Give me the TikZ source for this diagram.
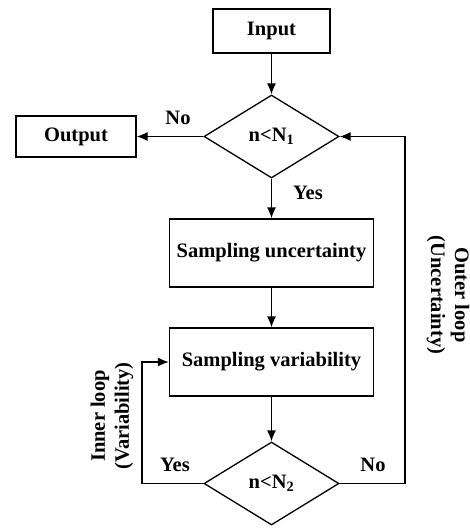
\documentclass[tikz,border=0pt]{standalone}
\usepackage{fontspec}
\setmainfont{Liberation Serif}
\usetikzlibrary{shapes.geometric,arrows.meta}
\begin{document}
\begin{tikzpicture}[x=1pt,y=-1pt,
  every node/.style={font=\fontsize{20.5}{24}\selectfont\bfseries},
  box/.style={draw,line width=1.3pt,inner sep=0pt,align=center},
  dec/.style={draw,diamond,line width=1.3pt,inner sep=0pt,minimum width=135pt,minimum height=83pt},
  conn/.style={line width=1.3pt,-{Latex[length=11pt,width=9pt]}},
  lbl/.style={inner sep=0pt}]
\useasboundingbox (0,0) rectangle (470,528);
\node[box,minimum width=117pt,minimum height=44pt] (in) at (271.5,31) {Input};
\node[dec] (d1) at (271.5,136.5) {n<N\textsubscript{1}};
\node[box,minimum width=120pt,minimum height=41pt] (out) at (76,136.5) {Output};
\node[box,minimum width=204pt,minimum height=68pt] (su) at (271.5,253) {Sampling uncertainty};
\node[box,minimum width=204pt,minimum height=68pt] (sv) at (271.5,362) {Sampling variability};
\node[dec] (d2) at (271.5,483.5) {n<N\textsubscript{2}};
\coordinate (il) at (142,483.5);
\coordinate (ol) at (405,483.5);
\draw[conn] (in) -- (d1);
\draw[conn] (d1.west) -- (out.east);
\draw[conn] (d1.south) -- (su.north);
\draw[conn] (su.south) -- (sv.north);
\draw[conn] (sv.south) -- (d2.north);
\draw[conn] (d2.west) -- (il) |- (sv.west);
\draw[conn] (d2.east) -- (ol) |- (d1.east);
\node[lbl] (no1) at (178,118) {No};
\node[lbl] (yes1) at (308,193) {Yes};
\node[lbl] (yes2) at (175,465) {Yes};
\node[lbl] (no2) at (373,465) {No};
\node[lbl,rotate=90,align=center] (inl) at (112,416) {Inner loop\\(Variability)};
\node[lbl,rotate=-90,align=center] (outl) at (448,295) {Outer loop\\(Uncertainty)};
\end{tikzpicture}
\end{document}
